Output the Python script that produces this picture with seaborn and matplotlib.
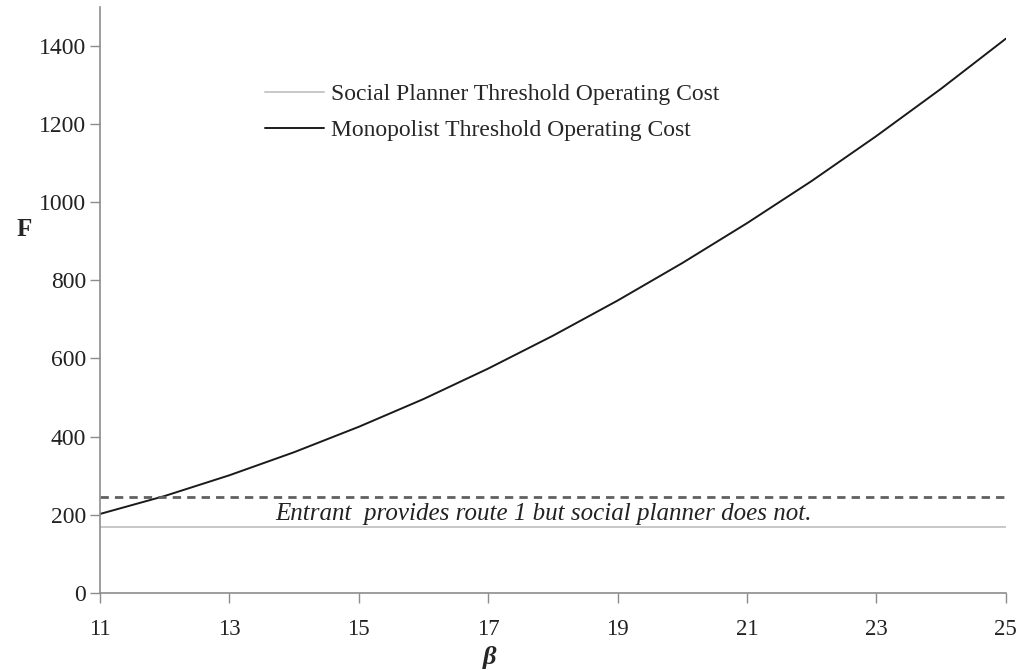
import numpy as np
import pandas as pd
import matplotlib
matplotlib.use("Agg")
import matplotlib.pyplot as plt
import seaborn as sns

sns.set_style("white")
plt.rcParams["font.family"] = ["Liberation Serif", "DejaVu Serif"]

# DATA
# ====================================
beta = [11, 12, 13, 14, 15, 16, 17, 18, 19, 20, 21, 22, 23, 24, 25]
monopolist = [202, 248, 301, 360, 425, 496, 574, 658, 748, 844, 946, 1054, 1169, 1290, 1418]
social_planner = [169] * len(beta)
entrant_level = [245] * len(beta)
yticks = [0, 200, 400, 600, 800, 1000, 1200, 1400]
xticks = [11, 13, 15, 17, 19, 21, 23, 25]

df = pd.DataFrame({
    "beta": beta * 2,
    "F": social_planner + monopolist,
    "series": ["Social Planner Threshold Operating Cost"] * len(beta)
              + ["Monopolist Threshold Operating Cost"] * len(beta),
})

# PLOT
# ====================================
fig = plt.figure(figsize=(10.19, 6.70), dpi=100)
ax = fig.add_axes([0.098, 0.115, 0.889, 0.875])

sns.lineplot(data=df, x="beta", y="F", hue="series", ax=ax,
             palette=["#c8c8c8", "#1a1a1a"], linewidth=1.4)
sns.lineplot(x=beta, y=entrant_level, ax=ax, color="#606060",
             linewidth=2, linestyle=(0, (3, 2.2)), legend=False)

ax.text(17.85, 203, "Entrant  provides route 1 but social planner does not.",
        ha="center", va="center", fontsize=18, style="italic", color="#222222")

ax.set_xlim(11, 25)
ax.set_ylim(0, 1500)
ax.set_xticks(xticks)
ax.set_yticks(yticks)
ax.tick_params(axis="both", direction="out", length=7, width=1, color="#8c8c8c",
               labelcolor="#222222", bottom=True, left=True)
ax.tick_params(axis="y", labelsize=17, pad=3)
ax.tick_params(axis="x", labelsize=16.5, pad=12)

for side in ["top", "right"]:
    ax.spines[side].set_visible(False)
for side in ["left", "bottom"]:
    ax.spines[side].set_color("#8c8c8c")
    ax.spines[side].set_linewidth(1.2)

ax.set_xlabel("β", fontsize=19, fontweight="bold", style="italic")
ax.xaxis.set_label_coords(0.43, -0.09)
ax.set_ylabel("F", fontsize=18, fontweight="bold", rotation=0)
ax.yaxis.set_label_coords(-0.083, 0.6)

leg = ax.legend(loc="upper left", bbox_to_anchor=(0.172, 0.885), frameon=False,
                fontsize=17, handlelength=2.5, handletextpad=0.3,
                labelspacing=0.6, borderaxespad=0)
leg.set_title(None)

fig.savefig("out.png", dpi=100)
